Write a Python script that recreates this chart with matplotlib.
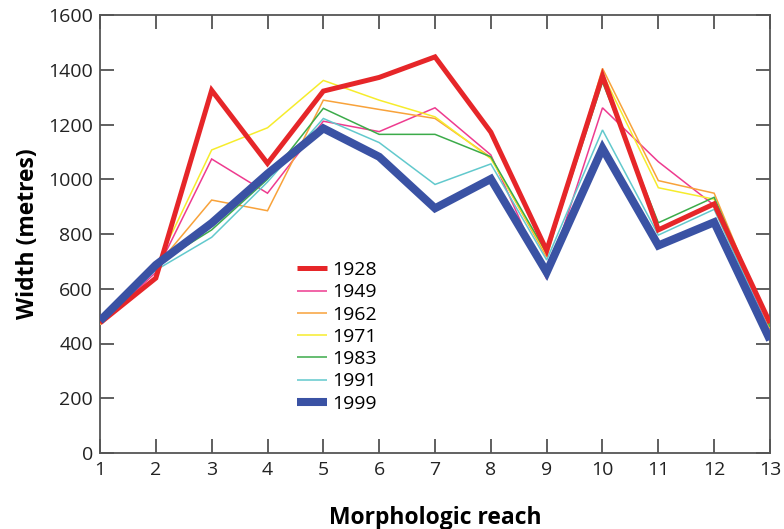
import numpy as np
import matplotlib
matplotlib.use("Agg")
import matplotlib.pyplot as plt

reach = list(range(1, 14))
years = ["1928", "1949", "1962", "1971", "1983", "1991", "1999"]

w1928 = [475, 639, 1325, 1058, 1322, 1372, 1447, 1172, 740, 1378, 815, 910, 475]
w1949 = [470, 660, 1074, 949, 1212, 1174, 1261, 1089, 635, 1261, 1064, 905, 445]
w1962 = [470, 680, 924, 885, 1289, 1255, 1222, 1080, 715, 1405, 995, 949, 455]
w1971 = [470, 680, 1107, 1188, 1361, 1289, 1228, 1075, 725, 1385, 969, 927, 460]
w1983 = [478, 688, 815, 1000, 1259, 1164, 1164, 1082, 730, 1355, 841, 934, 461]
w1991 = [478, 668, 788, 990, 1222, 1134, 981, 1056, 705, 1180, 796, 890, 440]
w1999 = [483, 687, 840, 1020, 1186, 1082, 894, 1001, 660, 1113, 758, 843, 413]

series = [w1928, w1949, w1962, w1971, w1983, w1991, w1999]
colors = ["#e62629", "#ee3b8f", "#f8a23a", "#f6ec2c", "#3cab4a", "#62c9cd", "#3a52a4"]
widths = [3.6, 1.1, 1.1, 1.1, 1.1, 1.1, 5.8]
zorders = [8, 3, 4, 5, 6, 7, 9]

plt.rcParams['font.family'] = ['Open Sans', 'DejaVu Sans']

fig = plt.figure(figsize=(7.84, 5.29), dpi=100)
ax = fig.add_axes([100 / 784, 1 - 453 / 529, 670 / 784, 438 / 529])

handles = []
for yr, vals, c, lw, z in zip(years, series, colors, widths, zorders):
    ln, = ax.plot(reach, vals, color=c, lw=lw, zorder=z, solid_joinstyle="miter",
                  solid_capstyle="butt", label=yr)
    handles.append(ln)

ax.set_xlim(1, 13)
ax.set_ylim(0, 1600)
ax.set_xticks(reach)
ax.set_yticks(np.arange(0, 1601, 200))
ax.tick_params(direction="in", length=10, width=1.2, color="#444444",
               top=True, right=True, labelsize=14, labelcolor="#222222")
ax.tick_params(axis="y", pad=5)
ax.tick_params(axis="x", pad=6)
for s in ax.spines.values():
    s.set_color("#555555")
    s.set_linewidth(1.3)

ax.set_xlabel("Morphologic reach", fontsize=16.5, fontweight="bold", labelpad=19)
ax.set_ylabel("Width (metres)", fontsize=16.5, fontweight="bold", labelpad=6)

leg = ax.legend(handles=handles, loc="upper left", bbox_to_anchor=(0.283, 0.456),
                frameon=False, fontsize=14, handlelength=1.5, handletextpad=0.3,
                labelspacing=0.22, borderaxespad=0)

fig.savefig("out.png", dpi=100)
